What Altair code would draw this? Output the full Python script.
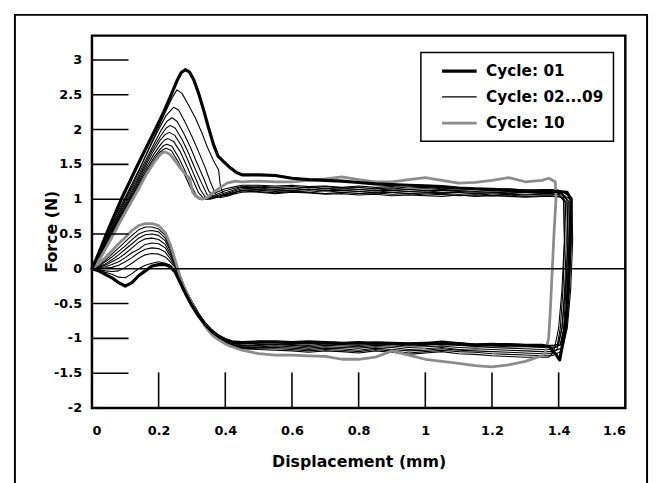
import altair as alt
import pandas as pd

CYCLES = ["01", "02", "03", "04", "05", "06", "07", "08", "09", "10"]
GROUPS = ["Cycle: 01"] + ["Cycle: 02...09"] * 8 + ["Cycle: 10"]
LEGEND_LABELS = ["Cycle: 01", "Cycle: 02...09", "Cycle: 10"]
DRAW_ORDER = [1, 2, 3, 4, 5, 6, 7, 8, 9, 0]

X_TICKS = [0, 0.2, 0.4, 0.6, 0.8, 1, 1.2, 1.4, 1.6]
Y_TICKS = [-2, -1.5, -1, -0.5, 0, 0.5, 1, 1.5, 2, 2.5, 3]
Y_TICK_LABELS = ["-2", "-1.5", "-1", "-0.5", "0", "0.5", "1", "1.5", "2", "2.5", "3"]
X_INNER_TICKS = [0.2, 0.4, 0.6, 0.8, 1.0, 1.2, 1.4]
Y_INNER_TICKS = [-1.5, -1, -0.5, 0.5, 1, 1.5, 2, 2.5, 3]

# shared x grids for the plateau / return parts of every loop
TOP_X = [0.45, 0.50, 0.55, 0.60, 0.65, 0.70, 0.75, 0.80, 0.85, 0.90, 0.95,
         1.00, 1.05, 1.10, 1.15, 1.20, 1.25, 1.30, 1.35]
BOT_X = [1.35, 1.30, 1.25, 1.20, 1.15, 1.10, 1.05, 1.00, 0.95, 0.90, 0.85,
         0.80, 0.75, 0.70, 0.65, 0.60, 0.55, 0.50, 0.45]
RISE_X = [0.42, 0.40, 0.38, 0.36, 0.34, 0.32, 0.30, 0.28, 0.265]
HUMP_X = [0.25, 0.235, 0.22, 0.20, 0.18, 0.16, 0.14, 0.12, 0.10, 0.08, 0.06, 0.04, 0.02, 0.0]

# loading branch (origin -> peak -> trough)
LOAD_X = [
    [0, 0.02, 0.045, 0.07, 0.09, 0.115, 0.14, 0.165, 0.19, 0.215, 0.235, 0.255, 0.268, 0.28,
     0.292, 0.305, 0.32, 0.335, 0.35, 0.365, 0.378, 0.395, 0.415, 0.435],
    [0, 0.02, 0.045, 0.07, 0.095, 0.12, 0.145, 0.17, 0.195, 0.22, 0.24, 0.255, 0.27, 0.29,
     0.31, 0.33, 0.346, 0.365, 0.38, 0.385, 0.395, 0.41, 0.43],
    [0, 0.02, 0.045, 0.075, 0.1, 0.125, 0.15, 0.175, 0.2, 0.222, 0.245, 0.26, 0.28, 0.30,
     0.32, 0.34, 0.355, 0.37, 0.385, 0.41, 0.43],
    [0, 0.02, 0.045, 0.075, 0.1, 0.127, 0.153, 0.18, 0.205, 0.225, 0.24, 0.255, 0.275, 0.295,
     0.315, 0.335, 0.35, 0.365, 0.385, 0.41, 0.43],
    [0, 0.02, 0.047, 0.077, 0.103, 0.13, 0.155, 0.18, 0.205, 0.222, 0.235, 0.25, 0.27, 0.29,
     0.31, 0.33, 0.345, 0.36, 0.38, 0.41, 0.43],
    [0, 0.022, 0.048, 0.078, 0.105, 0.132, 0.158, 0.183, 0.205, 0.22, 0.232, 0.248, 0.268,
     0.288, 0.308, 0.325, 0.34, 0.355, 0.38, 0.41, 0.43],
    [0, 0.022, 0.05, 0.08, 0.107, 0.134, 0.16, 0.185, 0.205, 0.218, 0.228, 0.245, 0.265,
     0.285, 0.305, 0.32, 0.335, 0.35, 0.375, 0.405, 0.43],
    [0, 0.023, 0.05, 0.08, 0.108, 0.136, 0.162, 0.186, 0.205, 0.215, 0.225, 0.24, 0.26,
     0.28, 0.298, 0.312, 0.328, 0.345, 0.37, 0.4, 0.43],
    [0, 0.024, 0.052, 0.082, 0.11, 0.138, 0.164, 0.187, 0.203, 0.213, 0.222, 0.238, 0.258,
     0.278, 0.295, 0.308, 0.322, 0.34, 0.365, 0.4, 0.43],
    [0, 0.025, 0.055, 0.085, 0.113, 0.14, 0.165, 0.188, 0.203, 0.212, 0.22, 0.235, 0.26,
     0.28, 0.293, 0.302, 0.315, 0.33, 0.345, 0.37, 0.405, 0.43],
]
LOAD_Y = [
    [0, 0.22, 0.52, 0.8, 1.02, 1.27, 1.52, 1.76, 2.0, 2.25, 2.47, 2.7, 2.82, 2.86, 2.83, 2.72,
     2.52, 2.28, 2.02, 1.78, 1.62, 1.54, 1.45, 1.38],
    [0, 0.2, 0.48, 0.75, 0.98, 1.22, 1.46, 1.72, 1.98, 2.25, 2.45, 2.57, 2.52, 2.35, 2.17, 1.95,
     1.75, 1.55, 1.42, 1.2, 1.06, 1.05, 1.1],
    [0, 0.18, 0.46, 0.76, 1.0, 1.24, 1.5, 1.76, 2.0, 2.2, 2.32, 2.28, 2.1, 1.9, 1.68, 1.45,
     1.25, 1.08, 1.02, 1.05, 1.08],
    [0, 0.17, 0.44, 0.74, 0.98, 1.22, 1.48, 1.74, 1.97, 2.12, 2.17, 2.12, 1.95, 1.75, 1.52, 1.3,
     1.12, 1.03, 1.04, 1.07, 1.1],
    [0, 0.17, 0.44, 0.73, 0.97, 1.21, 1.46, 1.7, 1.9, 2.02, 2.06, 2.02, 1.86, 1.66, 1.43, 1.22,
     1.07, 1.01, 1.03, 1.08, 1.1],
    [0, 0.17, 0.43, 0.72, 0.96, 1.2, 1.45, 1.68, 1.85, 1.93, 1.96, 1.92, 1.77, 1.56, 1.33, 1.14,
     1.03, 1.0, 1.04, 1.09, 1.12],
    [0, 0.16, 0.43, 0.71, 0.95, 1.19, 1.43, 1.64, 1.78, 1.85, 1.87, 1.83, 1.68, 1.47, 1.25, 1.09,
     1.01, 1.0, 1.05, 1.1, 1.14],
    [0, 0.16, 0.42, 0.7, 0.94, 1.18, 1.41, 1.6, 1.72, 1.77, 1.79, 1.76, 1.6, 1.4, 1.2, 1.06,
     1.0, 1.0, 1.06, 1.12, 1.16],
    [0, 0.16, 0.42, 0.69, 0.93, 1.17, 1.39, 1.57, 1.67, 1.71, 1.73, 1.7, 1.54, 1.35, 1.17, 1.05,
     1.0, 1.01, 1.08, 1.15, 1.18],
    [0, 0.15, 0.41, 0.68, 0.92, 1.15, 1.37, 1.54, 1.63, 1.67, 1.68, 1.64, 1.48, 1.36, 1.3, 1.1,
     1.03, 1.0, 1.02, 1.12, 1.23, 1.26],
]

# upper plateau (forces at TOP_X)
TOP_Y = [
    [1.35, 1.35, 1.34, 1.30, 1.28, 1.27, 1.26, 1.24, 1.22, 1.21, 1.20, 1.19, 1.18, 1.16, 1.15, 1.14, 1.13, 1.12, 1.11],
    [1.12, 1.10, 1.08, 1.10, 1.09, 1.07, 1.08, 1.06, 1.07, 1.05, 1.06, 1.05, 1.04, 1.06, 1.04, 1.05, 1.04, 1.03, 1.04],
    [1.10, 1.11, 1.09, 1.11, 1.10, 1.08, 1.10, 1.08, 1.09, 1.07, 1.08, 1.06, 1.07, 1.05, 1.06, 1.05, 1.06, 1.04, 1.05],
    [1.12, 1.13, 1.11, 1.12, 1.10, 1.12, 1.10, 1.11, 1.09, 1.10, 1.08, 1.09, 1.08, 1.07, 1.08, 1.06, 1.07, 1.06, 1.07],
    [1.13, 1.14, 1.13, 1.12, 1.14, 1.12, 1.13, 1.11, 1.12, 1.10, 1.11, 1.10, 1.09, 1.10, 1.08, 1.09, 1.08, 1.07, 1.08],
    [1.15, 1.16, 1.14, 1.15, 1.13, 1.15, 1.13, 1.14, 1.12, 1.13, 1.11, 1.12, 1.10, 1.11, 1.10, 1.10, 1.09, 1.10, 1.09],
    [1.17, 1.17, 1.16, 1.15, 1.17, 1.15, 1.16, 1.14, 1.15, 1.13, 1.14, 1.12, 1.13, 1.12, 1.11, 1.12, 1.11, 1.10, 1.11],
    [1.18, 1.19, 1.17, 1.18, 1.16, 1.18, 1.16, 1.17, 1.15, 1.16, 1.14, 1.15, 1.14, 1.13, 1.14, 1.12, 1.13, 1.12, 1.12],
    [1.20, 1.20, 1.19, 1.20, 1.18, 1.19, 1.17, 1.19, 1.17, 1.18, 1.16, 1.17, 1.15, 1.16, 1.15, 1.14, 1.15, 1.13, 1.14],
    [1.25, 1.26, 1.25, 1.25, 1.27, 1.29, 1.32, 1.28, 1.25, 1.25, 1.28, 1.31, 1.27, 1.23, 1.24, 1.27, 1.31, 1.25, 1.27],
]

# reversal at the right end
RIGHT_X = [
    [1.38, 1.40, 1.425, 1.437, 1.435, 1.43, 1.425, 1.415, 1.403, 1.39, 1.372],
    [1.38, 1.41, 1.425, 1.428, 1.422, 1.415, 1.405, 1.385],
    [1.38, 1.405, 1.42, 1.423, 1.418, 1.41, 1.40, 1.38],
    [1.38, 1.41, 1.43, 1.432, 1.426, 1.418, 1.405, 1.38],
    [1.38, 1.40, 1.415, 1.418, 1.413, 1.405, 1.395, 1.375],
    [1.38, 1.41, 1.435, 1.438, 1.432, 1.424, 1.41, 1.38],
    [1.38, 1.405, 1.425, 1.428, 1.42, 1.41, 1.395, 1.375],
    [1.38, 1.41, 1.44, 1.442, 1.436, 1.426, 1.41, 1.38],
    [1.38, 1.40, 1.415, 1.417, 1.41, 1.40, 1.385, 1.37],
    [1.37, 1.39, 1.392, 1.386, 1.38, 1.375, 1.37, 1.36],
]
RIGHT_Y = [
    [1.11, 1.11, 1.10, 1.0, 0.5, -0.1, -0.6, -1.0, -1.31, -1.22, -1.12],
    [1.04, 1.03, 0.95, 0.4, -0.3, -0.85, -1.08, -1.10],
    [1.05, 1.04, 0.95, 0.4, -0.3, -0.85, -1.08, -1.11],
    [1.07, 1.06, 0.97, 0.4, -0.3, -0.85, -1.10, -1.13],
    [1.08, 1.07, 0.98, 0.4, -0.3, -0.85, -1.12, -1.16],
    [1.09, 1.08, 0.99, 0.4, -0.3, -0.85, -1.14, -1.19],
    [1.11, 1.10, 1.00, 0.4, -0.3, -0.85, -1.16, -1.22],
    [1.12, 1.11, 1.02, 0.4, -0.3, -0.85, -1.18, -1.25],
    [1.14, 1.13, 1.04, 0.4, -0.3, -0.85, -1.20, -1.27],
    [1.30, 1.25, 1.00, 0.5, -0.1, -0.6, -1.00, -1.20],
]

# lower plateau (forces at BOT_X)
BOT_Y = [
    [-1.10, -1.10, -1.09, -1.09, -1.10, -1.08, -1.08, -1.07, -1.08, -1.07, -1.07, -1.06, -1.07, -1.06, -1.05, -1.06, -1.05, -1.05, -1.06],
    [-1.10, -1.09, -1.08, -1.07, -1.08, -1.06, -1.04, -1.06, -1.07, -1.06, -1.05, -1.07, -1.06, -1.05, -1.07, -1.06, -1.05, -1.06, -1.07],
    [-1.11, -1.10, -1.10, -1.09, -1.08, -1.07, -1.06, -1.08, -1.09, -1.07, -1.06, -1.08, -1.07, -1.06, -1.08, -1.07, -1.06, -1.07, -1.08],
    [-1.13, -1.12, -1.12, -1.11, -1.10, -1.10, -1.08, -1.10, -1.11, -1.09, -1.08, -1.10, -1.09, -1.08, -1.10, -1.09, -1.08, -1.09, -1.10],
    [-1.16, -1.15, -1.14, -1.13, -1.12, -1.13, -1.11, -1.12, -1.13, -1.11, -1.10, -1.12, -1.11, -1.10, -1.12, -1.10, -1.09, -1.10, -1.11],
    [-1.19, -1.18, -1.17, -1.16, -1.15, -1.16, -1.13, -1.15, -1.16, -1.13, -1.12, -1.14, -1.13, -1.12, -1.14, -1.12, -1.11, -1.12, -1.12],
    [-1.22, -1.21, -1.20, -1.19, -1.18, -1.17, -1.15, -1.17, -1.18, -1.16, -1.14, -1.17, -1.15, -1.14, -1.16, -1.14, -1.13, -1.13, -1.13],
    [-1.25, -1.24, -1.23, -1.22, -1.20, -1.19, -1.17, -1.19, -1.21, -1.18, -1.16, -1.19, -1.17, -1.16, -1.18, -1.16, -1.15, -1.15, -1.14],
    [-1.27, -1.27, -1.26, -1.25, -1.23, -1.22, -1.19, -1.21, -1.23, -1.20, -1.18, -1.21, -1.19, -1.18, -1.20, -1.18, -1.17, -1.16, -1.15],
    [-1.25, -1.33, -1.38, -1.41, -1.39, -1.36, -1.33, -1.30, -1.24, -1.18, -1.27, -1.30, -1.30, -1.26, -1.25, -1.24, -1.24, -1.22, -1.17],
]

# rise back to zero (forces at RISE_X)
RISE_Y = [
    [-1.05, -1.02, -0.97, -0.90, -0.80, -0.68, -0.53, -0.35, -0.20],
    [-1.04, -1.00, -0.95, -0.88, -0.78, -0.65, -0.50, -0.32, -0.16],
    [-1.05, -1.01, -0.96, -0.88, -0.78, -0.65, -0.49, -0.31, -0.14],
    [-1.06, -1.02, -0.97, -0.89, -0.78, -0.65, -0.48, -0.30, -0.13],
    [-1.07, -1.03, -0.97, -0.89, -0.78, -0.64, -0.47, -0.29, -0.12],
    [-1.08, -1.04, -0.98, -0.90, -0.79, -0.64, -0.47, -0.29, -0.12],
    [-1.09, -1.05, -0.99, -0.91, -0.80, -0.65, -0.48, -0.29, -0.11],
    [-1.10, -1.06, -1.00, -0.92, -0.80, -0.65, -0.48, -0.29, -0.11],
    [-1.11, -1.07, -1.01, -0.93, -0.81, -0.66, -0.49, -0.30, -0.11],
    [-1.12, -1.08, -1.02, -0.95, -0.83, -0.68, -0.50, -0.30, -0.12],
]

# small hump near the origin (forces at HUMP_X)
HUMP_Y = [
    [-0.05, 0.03, 0.06, 0.06, 0.04, -0.03, -0.10, -0.20, -0.25, -0.20, -0.13, -0.08, -0.03, 0],
    [-0.02, 0.05, 0.08, 0.10, 0.08, 0.05, 0.00, -0.07, -0.13, -0.12, -0.08, -0.05, -0.02, 0],
    [0.02, 0.10, 0.17, 0.21, 0.22, 0.20, 0.15, 0.08, 0.02, -0.03, -0.04, -0.03, -0.01, 0],
    [0.03, 0.14, 0.24, 0.29, 0.30, 0.28, 0.23, 0.16, 0.10, 0.05, 0.02, 0.01, 0.00, 0],
    [0.05, 0.18, 0.30, 0.36, 0.37, 0.35, 0.28, 0.23, 0.16, 0.10, 0.06, 0.03, 0.01, 0],
    [0.06, 0.22, 0.35, 0.42, 0.44, 0.43, 0.38, 0.30, 0.22, 0.15, 0.10, 0.05, 0.02, 0],
    [0.08, 0.26, 0.40, 0.48, 0.50, 0.49, 0.44, 0.36, 0.28, 0.20, 0.13, 0.07, 0.03, 0],
    [0.09, 0.29, 0.44, 0.53, 0.55, 0.54, 0.50, 0.42, 0.33, 0.25, 0.17, 0.10, 0.04, 0],
    [0.10, 0.32, 0.48, 0.57, 0.60, 0.60, 0.56, 0.48, 0.39, 0.30, 0.21, 0.12, 0.05, 0],
    [0.12, 0.35, 0.52, 0.62, 0.65, 0.65, 0.62, 0.55, 0.45, 0.36, 0.26, 0.16, 0.07, 0],
]

rows = []
for k in DRAW_ORDER:
    xs = LOAD_X[k] + TOP_X + RIGHT_X[k] + BOT_X + RISE_X + HUMP_X
    ys = LOAD_Y[k] + TOP_Y[k] + RIGHT_Y[k] + BOT_Y[k] + RISE_Y[k] + HUMP_Y[k]
    assert len(xs) == len(ys), (k, len(xs), len(ys))
    for i, (x, y) in enumerate(zip(xs, ys)):
        rows.append({"cycle": CYCLES[k], "grp": GROUPS[k], "i": i, "x": x, "y": y})
df = pd.DataFrame(rows)

W, H = 540, 377
FONT = "DejaVu Sans"
hyphen = "replace(format(datum.value, '~g'), '\u2212', '-')"

xscale = alt.Scale(domain=[0, 1.6], nice=False)
yscale = alt.Scale(domain=[-2, 3.35], nice=False)

legend = alt.Legend(
    title=None, orient="none", legendX=333, legendY=17,
    symbolType="M-2.5,0H2.5", symbolSize=196, symbolOffset=20,
    labelFont=FONT, labelFontSize=15.5, labelFontWeight="bold", labelColor="black",
    labelOffset=18, padding=10, rowPadding=9,
    strokeColor="black", fillColor="white",
)

lines = alt.Chart(df).mark_line(strokeJoin="round", strokeCap="round").encode(
    x=alt.X("x:Q", scale=xscale,
            axis=alt.Axis(values=X_TICKS, labelExpr=hyphen, labelPadding=17, labelOverlap=False,
                          title="Displacement (mm)", titleY=54, titleBaseline="middle")),
    y=alt.Y("y:Q", scale=yscale,
            axis=alt.Axis(values=Y_TICKS, labels=False,
                          title="Force (N)", titleX=-41, titleY=198, titleAngle=270,
                          titleAlign="center", titleBaseline="middle")),
    color=alt.Color("grp:N", scale=alt.Scale(domain=LEGEND_LABELS,
                                             range=["#000000", "#000000", "#8c8c8c"]),
                    legend=legend),
    strokeWidth=alt.StrokeWidth("grp:N", scale=alt.Scale(type="ordinal", domain=LEGEND_LABELS,
                                                         range=[3.2, 1.1, 2.8]),
                                legend=legend),
    detail="cycle:N",
    order="i:Q",
)

ylabels = alt.Chart(pd.DataFrame({"y": Y_TICKS, "lab": Y_TICK_LABELS})).mark_text(
    font=FONT, fontSize=13, fontWeight="bold", color="black",
    align="right", baseline="middle").encode(
    y="y:Q", x=alt.value(-10), text="lab:N")

zero = alt.Chart(pd.DataFrame({"y": [0]})).mark_rule(color="black", strokeWidth=1.6).encode(
    y="y:Q")

yticks = alt.Chart(pd.DataFrame({"y": Y_INNER_TICKS})).mark_rule(
    color="black", strokeWidth=1.6).encode(
    y="y:Q", x=alt.value(0), x2=alt.value(37))

xticks = alt.Chart(pd.DataFrame({"x": X_INNER_TICKS})).mark_rule(
    color="black", strokeWidth=1.6).encode(
    x="x:Q", y=alt.value(H), y2=alt.value(H - 36))

frame = alt.Chart(pd.DataFrame({"a": [0]})).mark_rect(
    filled=False, stroke="black", strokeWidth=2).encode(
    x=alt.value(-78), x2=alt.value(562), y=alt.value(-21), y2=alt.value(480))

chart = alt.layer(lines, zero, yticks, xticks, ylabels, frame).properties(
    width=W, height=H,
    autosize=alt.AutoSizeParams(type="none"),
    padding={"left": 85, "top": 25, "right": 26, "bottom": 73},
).configure_view(
    stroke="black", strokeWidth=2.5
).configure_axis(
    labelFont=FONT, labelFontSize=13, labelFontWeight="bold", labelColor="black",
    titleFont=FONT, titleFontSize=16, titleFontWeight="bold", titleColor="black",
    domain=False, ticks=False, grid=False,
).configure_legend(
    strokeWidth=1.5
)

chart.save("out.html", embed_options={"renderer": "svg", "actions": False})
